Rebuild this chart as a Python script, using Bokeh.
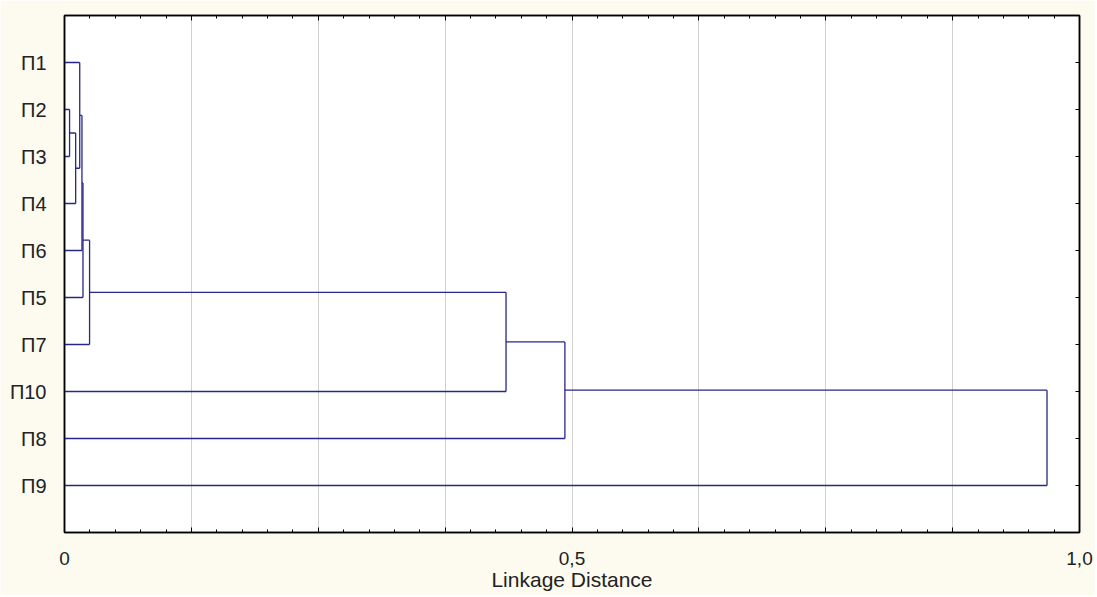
from bokeh.plotting import figure
from bokeh.models import Range1d, FixedTicker, LinearAxis, CustomLabelingPolicy
from bokeh.embed import file_html
from bokeh.resources import INLINE

# Leaf order (top to bottom)
leaves = ["П1", "П2", "П3", "П4", "П6", "П5", "П7", "П10", "П8", "П9"]

# Agglomeration steps: members (leaf names or earlier merges "m<k>") and linkage distance
merge_a = ["П2", "m0", "П1", "m2", "m3", "m4", "m5", "m6", "m7"]
merge_b = ["П3", "П4", "m1", "П6", "П5", "П7", "П10", "П8", "П9"]
merge_dist = [0.005, 0.011, 0.015, 0.0172, 0.0182, 0.0247, 0.435, 0.493, 0.968]

# Axis ticks
x_major = [0, 0.125, 0.25, 0.375, 0.5, 0.625, 0.75, 0.875, 1.0]
x_minor = [i * 0.025 for i in range(41)]
x_labels = {0: "0", 0.5: "0,5", 1.0: "1,0"}

LINE = "#26268c"
FONT = "Liberation Sans"
TXT = "#222222"

# Build dendrogram segments from the merge table
pos = {name: (0.0, i + 1) for i, name in enumerate(leaves)}
x0, y0, x1, y1 = [], [], [], []
for k, (a, b, d) in enumerate(zip(merge_a, merge_b, merge_dist)):
    xa_, ya_ = pos[a]
    xb_, yb_ = pos[b]
    x0 += [xa_, xb_, d]
    y0 += [ya_, yb_, ya_]
    x1 += [d, d, d]
    y1 += [ya_, yb_, yb_]
    pos["m%d" % k] = (d, (ya_ + yb_) / 2.0)

p = figure(width=1095, height=595, output_backend="svg", toolbar_location=None,
           x_range=Range1d(0, 1.0), y_range=Range1d(11, 0),
           min_border_left=64, min_border_right=16, min_border_top=15, min_border_bottom=63,
           background_fill_color="white", border_fill_color="#fdfaf0")
p.outline_line_color = "black"
p.outline_line_width = 1.5

p.segment(x0=x0, y0=y0, x1=x1, y1=y1, line_color=LINE, line_width=1.3)

# label policies: show only chosen labels / none
keep_idx = [x_major.index(t) for t in x_labels]
keep_policy = CustomLabelingPolicy(args=dict(keep=keep_idx), code="""
const n = indices.size;
for (let i = 0; i < n; i++) {
  if (!keep.includes(i)) { indices.unset(i); }
}
return indices;
""")

def none_policy():
    return CustomLabelingPolicy(code="""
const n = indices.size;
for (let i = 0; i < n; i++) { indices.unset(i); }
return indices;
""")

# Bottom axis
xa = p.xaxis[0]
xa.ticker = FixedTicker(ticks=x_major, minor_ticks=x_minor)
xa.major_label_overrides = {t: x_labels.get(t, "") for t in x_major}
xa.major_label_policy = keep_policy
xa.major_tick_in = 5
xa.major_tick_out = 0
xa.minor_tick_in = 3
xa.minor_tick_out = 0
xa.axis_line_color = "black"
xa.axis_line_width = 1.5
xa.major_label_standoff = 19
xa.major_label_text_font = FONT
xa.major_label_text_font_size = "19px"
xa.major_label_text_color = TXT
xa.axis_label = "Linkage Distance"
xa.axis_label_standoff = 0
xa.axis_label_text_font = FONT
xa.axis_label_text_font_size = "21px"
xa.axis_label_text_font_style = "normal"
xa.axis_label_text_color = TXT

# Left axis with leaf names
ya = p.yaxis[0]
ya.ticker = FixedTicker(ticks=list(range(1, len(leaves) + 1)))
ya.major_label_overrides = {i + 1: n for i, n in enumerate(leaves)}
ya.major_tick_line_color = None
ya.minor_tick_line_color = None
ya.axis_line_color = "black"
ya.axis_line_width = 1.5
ya.major_label_standoff = 12
ya.major_label_text_font = FONT
ya.major_label_text_font_size = "20px"
ya.major_label_text_color = TXT

# Mirror ticks on top and right (no labels)
top = LinearAxis(ticker=FixedTicker(ticks=x_major, minor_ticks=x_minor),
                 major_tick_in=5, major_tick_out=0, minor_tick_in=3, minor_tick_out=0,
                 major_label_policy=none_policy(), major_label_standoff=0,
                 axis_line_color="black", axis_line_width=1.5)
p.add_layout(top, "above")
right = LinearAxis(ticker=FixedTicker(ticks=list(range(1, len(leaves) + 1)), minor_ticks=[]),
                   major_tick_in=4, major_tick_out=0, minor_tick_line_color=None,
                   major_label_policy=none_policy(), major_label_standoff=0,
                   axis_line_color="black", axis_line_width=1.5)
p.add_layout(right, "right")

# Grid
p.xgrid.ticker = FixedTicker(ticks=x_major[1:-1])
p.xgrid.grid_line_color = "#d0d0d0"
p.xgrid.grid_line_width = 1
p.ygrid.grid_line_color = None

open("out.html", "w").write(file_html(p, INLINE))
